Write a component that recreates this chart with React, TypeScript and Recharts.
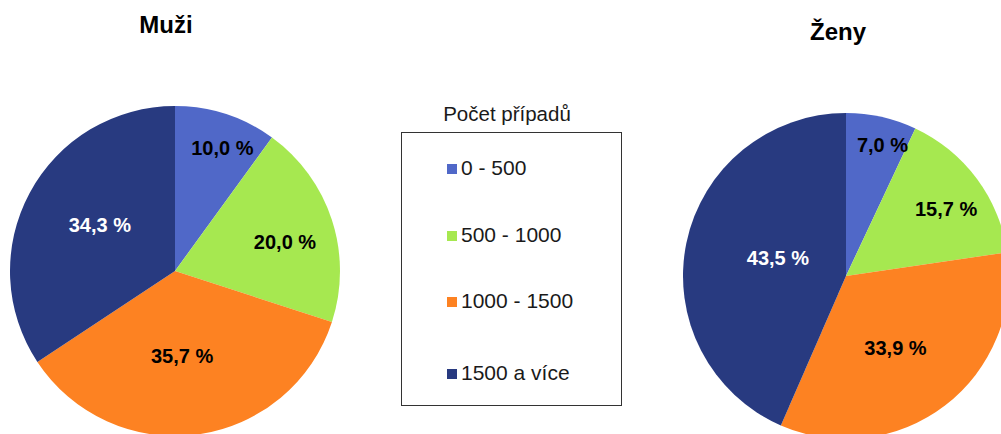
import { PieChart, Pie, Cell } from "recharts";

const categories = ["0 - 500", "500 - 1000", "1000 - 1500", "1500 a více"];
const colors = ["#5068C8", "#A6E850", "#FD8222", "#283A80"];
const muziValues = [10.0, 20.0, 35.7, 34.3];
const zenyValues = [7.0, 15.7, 33.9, 43.5];
const titles = ["Muži", "Ženy"];
const legendTitle = "Počet případů";

const FONT = '"Liberation Sans", Arial, sans-serif';
const RAD = Math.PI / 180;

const toData = (values: number[]) =>
  categories.map((name, i) => ({ name, value: values[i] }));

// Excel "best fit" style: small slices get labels pushed further out
const renderLabel = (props: any) => {
  const { cx, cy, midAngle, outerRadius, percent, index, value } = props;
  const r = outerRadius * (0.91 - 1.1 * percent);
  const a = midAngle - 3;
  const x = cx + r * Math.cos(-a * RAD);
  const y = cy + r * Math.sin(-a * RAD);
  return (
    <text
      x={x}
      y={y}
      textAnchor="middle"
      dominantBaseline="central"
      fill={index === 3 ? "#ffffff" : "#000000"}
      fontFamily={FONT}
      fontWeight="bold"
      fontSize={20}
    >
      {`${Number(value).toFixed(1).replace(".", ",")} %`}
    </text>
  );
};

export default function App() {
  const W = 1001;
  const H = 434;
  const legendBaselines = [175, 242, 308, 380];

  return (
    <div style={{ position: "relative", width: W, height: H, overflow: "hidden", background: "#fff" }}>
      <style>{"body{margin:0}"}</style>
      <PieChart width={W} height={H} margin={{ top: 0, right: 0, bottom: 0, left: 0 }}>
        <Pie
          data={toData(muziValues)}
          dataKey="value"
          cx={175}
          cy={271}
          outerRadius={165}
          startAngle={90}
          endAngle={-270}
          stroke="none"
          label={renderLabel}
          labelLine={false}
          isAnimationActive={false}
        >
          {muziValues.map((_, i) => (
            <Cell key={i} fill={colors[i]} />
          ))}
        </Pie>
        <Pie
          data={toData(zenyValues)}
          dataKey="value"
          cx={846}
          cy={276}
          outerRadius={163}
          startAngle={90}
          endAngle={-270}
          stroke="none"
          label={renderLabel}
          labelLine={false}
          isAnimationActive={false}
        >
          {zenyValues.map((_, i) => (
            <Cell key={i} fill={colors[i]} />
          ))}
        </Pie>
      </PieChart>
      <svg
        width={W}
        height={H}
        style={{ position: "absolute", left: 0, top: 0, pointerEvents: "none" }}
      >
        <text x={166} y={33} textAnchor="middle" fontFamily={FONT} fontWeight="bold" fontSize={24} fill="#000">
          {titles[0]}
        </text>
        <text x={838} y={40} textAnchor="middle" fontFamily={FONT} fontWeight="bold" fontSize={24} fill="#000">
          {titles[1]}
        </text>
        <text x={507} y={121} textAnchor="middle" fontFamily={FONT} fontSize={20.5} fill="#1a1a1a">
          {legendTitle}
        </text>
        <rect x={401.5} y={132.5} width={220} height={273} fill="none" stroke="#333" strokeWidth={1} />
        {categories.map((c, i) => (
          <g key={c}>
            <rect x={447} y={legendBaselines[i] - 11} width={10} height={10} fill={colors[i]} />
            <text x={461} y={legendBaselines[i]} fontFamily={FONT} fontSize={21} fill="#1a1a1a">
              {c}
            </text>
          </g>
        ))}
      </svg>
    </div>
  );
}
